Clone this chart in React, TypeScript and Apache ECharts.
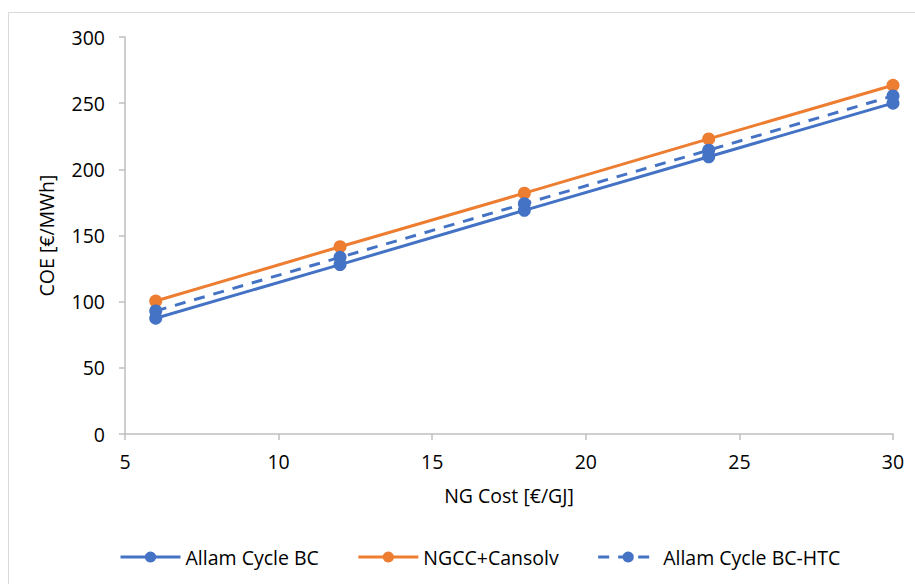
import React, { useEffect, useRef } from "react";
import * as echarts from "echarts";

const ngCost = [6, 12, 18, 24, 30];
const allamBC = [87.5, 128, 169, 209.5, 250];
const ngccCansolv = [100.5, 141.5, 182, 223, 263.5];
const allamHTC = [93, 133.5, 174, 214.5, 255.5];

const FONT = "'Open Sans', 'Noto Sans', sans-serif";
const FS = 19.5;

export default function App() {
  const ref = useRef<HTMLDivElement>(null);
  useEffect(() => {
    const chart = echarts.init(ref.current!, undefined, { renderer: "svg" });
    const mk = (arr: number[]) => ngCost.map((x, i) => [x, arr[i]]);
    chart.setOption({
      animation: false,
      backgroundColor: "#ffffff",
      textStyle: { fontFamily: FONT },
      graphic: [
        {
          type: "rect",
          shape: { x: 8.5, y: 12.5, width: 920, height: 600 },
          style: { fill: "none", stroke: "#d9d9d9", lineWidth: 1 },
          silent: true,
        },
      ],
      grid: { left: 125, right: 22, top: 37, bottom: 150 },
      xAxis: {
        type: "value",
        min: 5,
        max: 30,
        interval: 5,
        name: "NG Cost [€/GJ]",
        nameLocation: "middle",
        nameGap: 51,
        nameTextStyle: { fontSize: FS, color: "#000", fontFamily: FONT },
        axisLine: { lineStyle: { color: "#bfbfbf", width: 1.5 } },
        axisTick: { show: true, length: 6, lineStyle: { color: "#bfbfbf", width: 1.5 } },
        axisLabel: { fontSize: FS, color: "#000", margin: 17, fontFamily: FONT },
        splitLine: { show: false },
      },
      yAxis: {
        type: "value",
        min: 0,
        max: 300,
        interval: 50,
        name: "COE [€/MWh]",
        nameLocation: "middle",
        nameGap: 69,
        nameTextStyle: { fontSize: FS, color: "#000", fontFamily: FONT },
        axisLine: { show: true, lineStyle: { color: "#bfbfbf", width: 1.5 } },
        axisTick: { show: true, length: 6, lineStyle: { color: "#bfbfbf", width: 1.5 } },
        axisLabel: { fontSize: FS, color: "#000", margin: 20, fontFamily: FONT },
        splitLine: { show: false },
      },
      legend: {
        bottom: 12,
        left: 114,
        itemWidth: 60,
        itemHeight: 14,
        itemGap: 38,
        lineStyle: { width: 3 },
        textStyle: { fontSize: FS, color: "#000", fontFamily: FONT },
        data: ["Allam Cycle BC", "NGCC+Cansolv", "Allam Cycle BC-HTC"],
      },
      series: [
        {
          name: "Allam Cycle BC",
          type: "line",
          data: mk(allamBC),
          symbol: "circle",
          symbolSize: 13,
          lineStyle: { color: "#4472c4", width: 3 },
          itemStyle: { color: "#4472c4" },
          z: 2,
        },
        {
          name: "NGCC+Cansolv",
          type: "line",
          data: mk(ngccCansolv),
          symbol: "circle",
          symbolSize: 13,
          lineStyle: { color: "#ed7d31", width: 3 },
          itemStyle: { color: "#ed7d31" },
          z: 2,
        },
        {
          name: "Allam Cycle BC-HTC",
          type: "line",
          data: mk(allamHTC),
          symbol: "circle",
          symbolSize: 13,
          lineStyle: { color: "#4472c4", width: 3, type: [11, 9] },
          itemStyle: { color: "#4472c4" },
          z: 3,
        },
      ],
    });
    return () => chart.dispose();
  }, []);
  return (
    <div
      ref={ref}
      style={{ position: "fixed", left: 0, top: 0, width: 915, height: 584 }}
    />
  );
}
